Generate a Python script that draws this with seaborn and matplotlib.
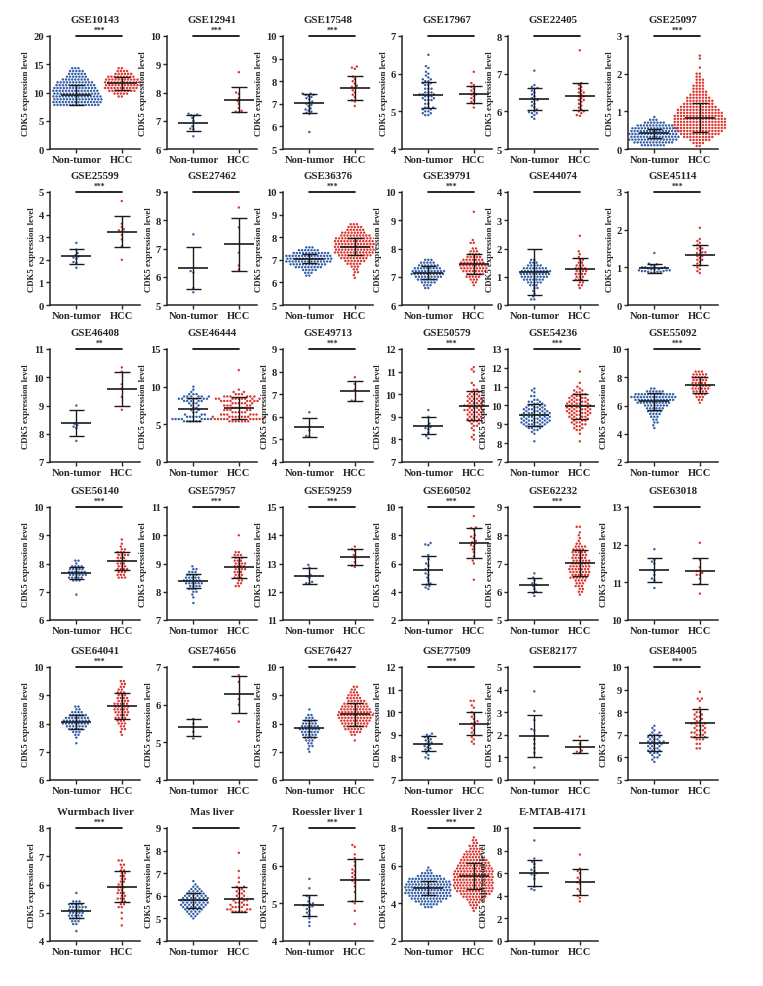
import warnings
import numpy as np
import pandas as pd
import seaborn as sns
import matplotlib.pyplot as plt

warnings.filterwarnings('ignore')

# group values: a plain number is one sample,
# (value, n) means n samples sitting on that level
GSE10143_NT = [(7.8, 15), (8.3, 16), (8.8, 16), (9.3, 16), (9.8, 15), (10.3, 15), (10.8, 14),
               (11.3, 13), (11.8, 12), (12.3, 9), (12.8, 7), (13.3, 6), (13.8, 5), (14.3, 3)]
GSE10143_HCC = [(9.3, 2), (9.8, 5), (10.3, 9), (10.8, 11), (11.3, 12), (11.8, 12), (12.3, 11),
                (12.8, 9), (13.3, 6), (13.8, 4), (14.3, 2)]
GSE12941_NT = [7.25, 7.22, 7.2, 7.18, 7.1, 7.0, 6.8, 6.72, 6.7, 6.45]
GSE12941_HCC = [8.72, 8.0, 7.95, 7.8, 7.7, 7.6, 7.45, 7.35, 7.32, 7.3]
GSE17548_NT = [7.45, 7.45, 7.4, 7.4, 7.35, 7.3, 7.25, 7.2, 7.1, 7.05, 7.0, 6.95, 6.9, 6.8,
               6.75, 6.7, 6.65, 6.6, 6.55, 5.75]
GSE17548_HCC = [8.65, 8.6, 8.55, 8.2, 8.1, 8.0, 7.9, 7.8, 7.75, 7.7, 7.6, 7.5, 7.4, 7.3,
                7.15, 7.1, 6.9]
GSE17967_NT = [6.5, 6.2, 6.15, 6.05, 6.0, 5.95, 5.9, (5.85, 2), (5.8, 2), (5.75, 2), (5.7, 2),
               (5.6, 3), (5.5, 3), (5.45, 3), (5.4, 3), (5.35, 2), (5.3, 3), (5.2, 2), (5.1, 3),
               (5.05, 2), (5.0, 2), (4.95, 2), (4.9, 2)]
GSE17967_HCC = [6.05, 5.75, 5.7, 5.65, 5.6, 5.55, 5.5, 5.45, 5.45, 5.4, 5.35, 5.3, 5.25, 5.2, 5.1]
GSE22405_NT = [7.08, 6.7, 6.65, 6.62, 6.6, 6.55, 6.5, 6.45, 6.4, 6.35, 6.3, 6.3, 6.25, 6.2,
               6.15, 6.1, 6.05, 6.0, 5.98, 5.95, 5.9, 5.85, 5.8, 5.95]
GSE22405_HCC = [7.62, 6.75, 6.7, 6.65, 6.6, 6.55, 6.5, 6.45, 6.4, 6.4, 6.35, 6.3, 6.25, 6.2,
                6.15, 6.1, 6.05, 6.0, 5.95, 5.9, 5.88, 6.0, 6.3, 6.5]
GSE25097_NT = [(0.1, 8), (0.175, 13), (0.25, 16), (0.325, 16), (0.4, 16), (0.475, 16),
               (0.55, 15), (0.625, 12), (0.7, 7), (0.775, 3), (0.85, 1)]
GSE25097_HCC = [(0.08, 2), (0.16, 4), (0.24, 7), (0.32, 10), (0.4, 13), (0.48, 15), (0.56, 17),
                (0.64, 17), (0.72, 17), (0.8, 17), (0.88, 16), (0.96, 15), (1.04, 14),
                (1.12, 12), (1.2, 10), (1.28, 9), (1.36, 8), (1.44, 6), (1.52, 5), (1.6, 4),
                (1.68, 4), (1.76, 3), (1.84, 3), (1.92, 2), (2.0, 2), 2.16, 2.4, 2.48]

GSE25599_NT = [2.75, 2.45, 2.3, 2.2, 2.15, 2.1, 2.05, 1.9, 1.85, 1.65]
GSE25599_HCC = [4.6, 3.6, 3.45, 3.35, 3.3, 3.25, 3.1, 2.9, 2.6, 2.0]
GSE27462_NT = [7.5, 6.2, 6.15, 5.6, 5.45]
GSE27462_HCC = [8.45, 7.75, 6.85, 6.4, 6.25]
GSE36376_NT = [(6.3, 2), (6.425, 3), (6.55, 5), (6.675, 9), (6.8, 12), (6.925, 15), (7.05, 15),
               (7.175, 15), (7.3, 12), (7.425, 7), (7.55, 3)]
GSE36376_HCC = [6.2, 6.325, (6.45, 2), (6.575, 2), (6.7, 3), (6.825, 5), (6.95, 7), (7.075, 9),
                (7.2, 11), (7.325, 13), (7.45, 13), (7.575, 13), (7.7, 13), (7.825, 13),
                (7.95, 12), (8.075, 10), (8.2, 8), (8.325, 6), (8.45, 5), (8.575, 3)]
GSE39791_NT = [(6.6, 2), (6.7, 3), (6.8, 5), (6.9, 7), (7.0, 9), (7.1, 11), (7.2, 11), (7.3, 9),
               (7.4, 7), (7.5, 5), (7.6, 3)]
GSE39791_HCC = [(6.7, 1), (6.8, 2), (6.9, 3), (7.0, 5), (7.1, 6), (7.2, 8), (7.3, 9), (7.4, 9),
                (7.5, 8), (7.6, 7), (7.7, 5), (7.8, 4), (7.9, 3), (8.0, 2), (8.2, 2), (8.3, 1), 9.3]
GSE44074_NT = [(0.2, 2), 0.3, 0.4, 0.5, (0.6, 2), (0.7, 3), (0.8, 5), (0.9, 7), (1.0, 9),
               (1.1, 10), (1.2, 10), (1.3, 8), (1.4, 5), (1.5, 3), (1.6, 2)]
GSE44074_HCC = [0.6, (0.7, 2), (0.8, 2), (0.9, 3), (1.0, 3), (1.1, 4), (1.2, 4), (1.3, 4),
                (1.4, 3), (1.5, 2), (1.6, 2), 1.7, 1.8, 1.9, 2.45]
GSE45114_NT = [1.38, 1.1, 1.08, 1.05, 1.03, (1.0, 3), 0.98, 0.97, (0.95, 3), (0.92, 3),
               (0.9, 3), (0.88, 3), (0.86, 2)]
GSE45114_HCC = [2.05, 1.75, 1.7, 1.65, 1.6, 1.55, 1.5, 1.45, 1.4, 1.38, 1.35, 1.3, 1.3, 1.25,
                1.2, 1.15, 1.1, 1.05, 1.0, 0.95, 0.9, 0.85, 1.2, 1.4, 1.5]

GSE46408_NT = [9.0, 8.35, 8.3, 8.25, 8.2, 7.75]
GSE46408_HCC = [10.35, 10.2, 9.75, 9.6, 9.3, 8.85]
GSE46444_NT = [(5.4, 6), (5.7, 8), (6.0, 5), (6.3, 3), (6.6, 2), (6.9, 2), (7.2, 2), (7.5, 2),
               (7.8, 3), (8.1, 5), (8.4, 7), (8.7, 6), (9.0, 3), 9.3, 9.6, 10.0]
GSE46444_HCC = [(5.4, 7), (5.7, 10), (6.0, 9), (6.3, 6), (6.6, 5), (6.9, 5), (7.2, 5), (7.5, 5),
                (7.8, 6), (8.1, 8), (8.4, 9), (8.7, 6), (9.0, 3), (9.3, 2), 9.6, 12.2]
GSE49713_NT = [6.2, 5.55, 5.4, 5.15, 5.12]
GSE49713_HCC = [7.75, 7.45, 7.2, 6.72, 6.7]
GSE50579_NT = [9.3, 9.0, 8.7, 8.6, 8.55, 8.5, 8.45, 8.3, 8.15, 8.05]
GSE50579_HCC = [8.0, 8.1, 8.2, 8.4, 8.5, (8.6, 2), (8.7, 2), (8.8, 3), (8.9, 3), (9.0, 4),
                (9.1, 4), (9.2, 4), (9.3, 5), (9.4, 4), (9.5, 5), (9.6, 4), (9.7, 4), (9.8, 4),
                (9.9, 3), (10.0, 3), (10.1, 2), (10.2, 2), 10.4, 10.5, 11.0, 11.1, 11.2]
GSE54236_NT = [8.1, 8.5, 8.6, (8.7, 2), (8.8, 3), (8.9, 4), (9.0, 5), (9.1, 6), (9.2, 6),
               (9.3, 6), (9.4, 6), (9.5, 6), (9.6, 6), (9.7, 5), (9.8, 5), (9.9, 4), (10.0, 4),
               (10.1, 3), (10.2, 3), (10.3, 2), (10.5, 2), 10.7, 10.8, 10.9]
GSE54236_HCC = [8.1, 8.5, (8.7, 2), (8.8, 2), (8.9, 2), (9.0, 3), (9.1, 3), (9.2, 3), (9.3, 4),
                (9.4, 4), (9.5, 4), (9.6, 5), (9.7, 5), (9.8, 5), (9.9, 5), (10.0, 5), (10.1, 5),
                (10.2, 4), (10.3, 4), (10.4, 4), (10.5, 3), (10.6, 3), (10.7, 2), (10.8, 2),
                10.9, 11.0, 11.2, 11.8]
GSE55092_NT = [4.4, 4.6, (4.8, 2), (5.0, 2), (5.2, 3), (5.4, 4), (5.6, 5), (5.8, 6), (6.0, 8),
               (6.2, 11), (6.4, 13), (6.6, 15), (6.8, 13), (7.0, 6), (7.2, 2)]
GSE55092_HCC = [6.2, (6.4, 2), (6.6, 3), (6.8, 4), (7.0, 5), (7.2, 6), (7.4, 6), (7.6, 5),
                (7.8, 5), (8.0, 5), (8.2, 5), (8.4, 3)]

GSE56140_NT = [6.9, (7.4, 3), (7.5, 5), (7.6, 6), (7.7, 6), (7.8, 5), (7.9, 4), 8.0, (8.1, 2)]
GSE56140_HCC = [(7.5, 3), (7.6, 3), (7.7, 3), (7.8, 4), (7.9, 3), (8.0, 3), (8.1, 3), (8.2, 3),
                (8.3, 4), (8.4, 3), (8.5, 2), 8.6, 8.7, 8.85]
GSE57957_NT = [8.9, (8.8, 2), (8.7, 3), (8.6, 4), (8.5, 5), (8.4, 6), (8.3, 6), (8.2, 4),
               (8.1, 3), (8.0, 2), 7.9, 7.8, 7.6]
GSE57957_HCC = [10.0, (9.4, 2), (9.3, 3), (9.2, 3), (9.1, 3), (9.0, 4), (8.9, 4), (8.8, 4),
                (8.7, 3), (8.6, 3), (8.5, 3), (8.4, 2), (8.3, 2), (8.2, 2)]
GSE59259_NT = [12.95, 12.85, 12.6, 12.55, 12.5, 12.35, 12.3, 12.3]
GSE59259_HCC = [13.6, 13.5, 13.45, 13.3, 13.2, 13.05, 12.92, 12.88]
GSE60502_NT = [7.45, 7.35, 7.3, 6.6, 6.3, 6.0, 5.85, 5.6, 5.5, 5.3, 5.2, 5.0, 4.8, 4.6, 4.5,
               4.3, 4.2, 4.4]
GSE60502_HCC = [9.35, 8.55, 8.5, 8.4, 8.0, 7.8, 7.6, 7.5, 7.4, 7.3, 7.2, 7.0, 6.8, 6.5, 6.2,
                6.0, 4.85, 7.9]
GSE62232_NT = [6.65, 6.5, 6.4, 6.3, 6.25, 6.2, 6.1, 6.0, 5.95, 5.85]
GSE62232_HCC = [5.9, (6.0, 2), (6.1, 2), (6.2, 3), (6.3, 3), (6.4, 4), (6.5, 6), (6.6, 6),
                (6.7, 7), (6.8, 7), (6.9, 7), (7.0, 6), (7.1, 6), (7.2, 5), (7.3, 5), (7.4, 5),
                (7.5, 4), (7.6, 4), (7.7, 2), 7.8, 7.9, 8.0, 8.1, (8.3, 2)]
GSE63018_NT = [11.88, 11.6, 11.55, 11.5, 11.3, 11.2, 11.1, 11.05, 10.85]
GSE63018_HCC = [12.05, 11.6, 11.4, 11.3, 11.3, 11.25, 11.2, 11.2, 11.1, 10.95, 10.7]

GSE64041_NT = [7.3, 7.5, (7.6, 2), (7.7, 3), (7.8, 5), (7.9, 7), (8.0, 9), (8.1, 9), (8.2, 8),
               (8.3, 6), (8.4, 4), (8.5, 2), (8.6, 2)]
GSE64041_HCC = [7.6, 7.7, (7.8, 2), (7.9, 2), (8.0, 3), (8.1, 3), (8.2, 4), (8.3, 4), (8.4, 5),
                (8.5, 5), (8.6, 5), (8.7, 5), (8.8, 4), (8.9, 4), (9.0, 3), (9.1, 3), (9.2, 2),
                (9.3, 2), (9.4, 2), (9.5, 2)]
GSE74656_NT = [5.62, 5.5, 5.4, 5.28, 5.1]
GSE74656_HCC = [6.78, 6.6, 6.15, 6.0, 5.55]
GSE76427_NT = [7.0, 7.1, (7.2, 2), (7.3, 2), (7.4, 3), (7.5, 4), (7.6, 5), (7.7, 6), (7.8, 7),
               (7.9, 6), (8.0, 5), (8.1, 4), (8.2, 3), (8.3, 2), 8.5]
GSE76427_HCC = [7.4, (7.6, 2), (7.7, 4), (7.8, 6), (7.9, 8), (8.0, 9), (8.1, 10), (8.2, 11),
                (8.3, 12), (8.4, 11), (8.5, 10), (8.6, 9), (8.7, 8), (8.8, 6), (8.9, 5),
                (9.0, 4), (9.1, 3), (9.2, 2), (9.3, 2)]
GSE77509_NT = [9.05, 9.0, 8.95, 8.9, 8.85, 8.8, 8.75, 8.7, 8.65, 8.6, 8.55, 8.5, 8.45, 8.4,
               8.35, 8.3, 8.2, 8.1, 8.0, 7.95]
GSE77509_HCC = [10.5, 10.5, 10.3, 10.2, 10.0, 9.9, 9.8, 9.7, 9.6, 9.5, 9.4, 9.3, 9.2, 9.1,
                9.0, 8.9, 8.8, 8.7, 8.6, 9.55]
GSE82177_NT = [3.92, 3.05, 2.65, 2.25, 2.2, 1.8, 1.6, 1.4, 1.2, 0.55]
GSE82177_HCC = [1.92, 1.6, 1.45, 1.3, 1.25, 1.2]
GSE84005_NT = [5.8, 5.9, (6.0, 2), (6.1, 2), (6.2, 3), (6.3, 3), (6.4, 3), (6.5, 3), (6.6, 4),
               (6.7, 4), (6.8, 3), (6.9, 3), (7.0, 3), (7.1, 2), 7.2, 7.3, 7.4]
GSE84005_HCC = [(6.4, 2), (6.6, 2), (6.8, 3), (6.9, 3), (7.0, 3), (7.1, 3), (7.2, 3), (7.3, 2),
                (7.4, 3), (7.5, 3), (7.6, 2), (7.7, 2), (7.8, 2), (7.9, 2), (8.0, 2), 8.2, 8.5,
                (8.6, 2), 8.9]

WURMBACH_NT = [4.35, (4.6, 2), (4.7, 3), (4.8, 4), (4.9, 5), (5.0, 5), (5.1, 5), (5.2, 6),
               (5.3, 5), (5.4, 3), 5.7]
WURMBACH_HCC = [4.55, 4.8, 5.0, (5.2, 2), (5.3, 2), (5.4, 2), (5.5, 3), (5.6, 2), (5.7, 3),
                (5.8, 2), (5.9, 3), (6.0, 2), (6.1, 2), (6.2, 2), (6.3, 2), (6.4, 2), (6.5, 2),
                6.6, (6.7, 2), (6.85, 2)]
MAS_NT = [5.0, (5.1, 2), (5.2, 3), (5.3, 4), (5.4, 5), (5.5, 6), (5.6, 7), (5.7, 7), (5.8, 7),
          (5.9, 7), (6.0, 6), (6.1, 5), (6.2, 4), (6.3, 3), (6.4, 2), 6.5, 6.65]
MAS_HCC = [(5.3, 5), (5.4, 4), (5.5, 4), (5.6, 3), (5.7, 3), (5.8, 3), (5.9, 2), (6.0, 2),
           (6.1, 2), (6.2, 2), (6.3, 2), (6.4, 2), 6.6, 6.8, 7.1, 7.9]
ROESSLER1_NT = [5.65, 5.4, 5.2, 5.15, 5.05, 5.0, 4.98, 4.95, 4.92, 4.9, 4.85, 4.8, 4.75, 4.7,
                4.6, 4.5, 4.4, 4.95]
ROESSLER1_HCC = [6.55, 6.5, 6.2, 6.1, 6.0, 5.9, 5.85, 5.8, 5.7, 5.6, 5.55, 5.45, 5.3, 5.05,
                 5.0, 4.8, 4.45, 5.65, 5.75, 6.3]
ROESSLER2_NT = [(3.8, 3), (3.95, 6), (4.1, 9), (4.25, 12), (4.4, 14), (4.55, 15), (4.7, 15),
                (4.85, 15), (5.0, 15), (5.15, 14), (5.3, 12), (5.45, 8), (5.6, 4), (5.75, 2), 5.9]
ROESSLER2_HCC = [3.6, (3.75, 2), (3.9, 3), (4.05, 4), (4.2, 6), (4.35, 8), (4.5, 10), (4.65, 12),
                 (4.8, 13), (4.95, 13), (5.1, 13), (5.25, 13), (5.4, 13), (5.55, 13), (5.7, 13),
                 (5.85, 12), (6.0, 11), (6.15, 10), (6.3, 9), (6.45, 7), (6.6, 6), (6.75, 5),
                 (6.9, 4), (7.05, 3), (7.2, 2), (7.35, 2), 7.5]
EMTAB_NT = [8.9, 7.3, 7.0, 6.8, 6.5, 6.3, 6.2, 6.0, 5.9, 5.8, 5.5, 4.8, 4.6, 4.5]
EMTAB_HCC = [7.65, 6.4, 6.2, 6.0, 5.6, 5.4, 5.2, 5.1, 4.6, 4.4, 4.0, 3.8, 3.5]

TITLES = ['GSE10143', 'GSE12941', 'GSE17548', 'GSE17967', 'GSE22405', 'GSE25097',
          'GSE25599', 'GSE27462', 'GSE36376', 'GSE39791', 'GSE44074', 'GSE45114',
          'GSE46408', 'GSE46444', 'GSE49713', 'GSE50579', 'GSE54236', 'GSE55092',
          'GSE56140', 'GSE57957', 'GSE59259', 'GSE60502', 'GSE62232', 'GSE63018',
          'GSE64041', 'GSE74656', 'GSE76427', 'GSE77509', 'GSE82177', 'GSE84005',
          'Wurmbach liver', 'Mas liver', 'Roessler liver 1', 'Roessler liver 2', 'E-MTAB-4171']
NT_DATA = [GSE10143_NT, GSE12941_NT, GSE17548_NT, GSE17967_NT, GSE22405_NT, GSE25097_NT,
           GSE25599_NT, GSE27462_NT, GSE36376_NT, GSE39791_NT, GSE44074_NT, GSE45114_NT,
           GSE46408_NT, GSE46444_NT, GSE49713_NT, GSE50579_NT, GSE54236_NT, GSE55092_NT,
           GSE56140_NT, GSE57957_NT, GSE59259_NT, GSE60502_NT, GSE62232_NT, GSE63018_NT,
           GSE64041_NT, GSE74656_NT, GSE76427_NT, GSE77509_NT, GSE82177_NT, GSE84005_NT,
           WURMBACH_NT, MAS_NT, ROESSLER1_NT, ROESSLER2_NT, EMTAB_NT]
HCC_DATA = [GSE10143_HCC, GSE12941_HCC, GSE17548_HCC, GSE17967_HCC, GSE22405_HCC, GSE25097_HCC,
            GSE25599_HCC, GSE27462_HCC, GSE36376_HCC, GSE39791_HCC, GSE44074_HCC, GSE45114_HCC,
            GSE46408_HCC, GSE46444_HCC, GSE49713_HCC, GSE50579_HCC, GSE54236_HCC, GSE55092_HCC,
            GSE56140_HCC, GSE57957_HCC, GSE59259_HCC, GSE60502_HCC, GSE62232_HCC, GSE63018_HCC,
            GSE64041_HCC, GSE74656_HCC, GSE76427_HCC, GSE77509_HCC, GSE82177_HCC, GSE84005_HCC,
            WURMBACH_HCC, MAS_HCC, ROESSLER1_HCC, ROESSLER2_HCC, EMTAB_HCC]
# mean and SD bars as drawn in the figure: (mean, sd)
NT_STATS = [(9.6, 1.8), (6.92, 0.29), (7.03, 0.42), (5.43, 0.34), (6.32, 0.29), (0.42, 0.12),
            (2.15, 0.32), (6.3, 0.75), (7.05, 0.2), (7.15, 0.22), (1.17, 0.81), (0.97, 0.11),
            (8.38, 0.45), (7.0, 1.5), (5.53, 0.41), (8.6, 0.38), (9.5, 0.57), (6.3, 0.6),
            (7.67, 0.22), (8.37, 0.25), (12.56, 0.28), (5.55, 0.98), (6.23, 0.25), (11.33, 0.31),
            (8.05, 0.25), (5.4, 0.22), (7.83, 0.31), (8.6, 0.33), (1.95, 0.93), (6.65, 0.35),
            (5.07, 0.27), (5.8, 0.33), (4.95, 0.28), (4.82, 0.37), (6.05, 1.15)]
HCC_STATS = [(11.6, 1.15), (7.75, 0.45), (7.7, 0.55), (5.45, 0.22), (6.4, 0.36), (0.83, 0.38),
             (3.25, 0.68), (7.15, 0.93), (7.58, 0.37), (7.45, 0.36), (1.28, 0.38), (1.33, 0.27),
             (9.58, 0.59), (7.2, 1.45), (7.13, 0.44), (9.5, 0.63), (9.95, 0.67), (7.45, 0.6),
             (8.1, 0.32), (8.87, 0.37), (13.22, 0.28), (7.43, 1.05), (7.02, 0.47), (11.3, 0.35),
             (8.62, 0.45), (6.27, 0.5), (8.32, 0.4), (9.5, 0.53), (1.48, 0.3), (7.53, 0.62),
             (5.92, 0.55), (5.85, 0.55), (5.62, 0.57), (5.45, 0.7), (5.22, 1.13)]
# y axis (low, high, step)
Y_AXES = [(0, 20, 5), (6, 10, 1), (5, 10, 1), (4, 7, 1), (5, 8, 1), (0, 3, 1),
          (0, 5, 1), (5, 9, 1), (5, 10, 1), (6, 10, 1), (0, 4, 1), (0, 3, 1),
          (7, 11, 1), (0, 15, 5), (4, 9, 1), (7, 12, 1), (7, 13, 1), (2, 10, 2),
          (6, 10, 1), (7, 11, 1), (11, 15, 1), (2, 10, 2), (5, 9, 1), (10, 13, 1),
          (6, 10, 1), (4, 7, 1), (6, 10, 1), (7, 12, 1), (0, 5, 1), (5, 10, 1),
          (4, 8, 1), (4, 9, 1), (4, 7, 1), (2, 8, 2), (0, 10, 2)]
STARS = ['***', '***', '***', '', '', '***',
         '***', '', '***', '***', '', '***',
         '**', '', '***', '***', '***', '***',
         '***', '***', '***', '***', '***', '',
         '***', '**', '***', '***', '', '***',
         '***', '', '***', '***', '']

GROUPS = ['Non-tumor', 'HCC']
COLORS = {'Non-tumor': '#3560a8', 'HCC': '#dc3731'}

# panel placement in pixels
W, H = 763, 987
COL_X = [50, 167, 283, 402, 508, 628]
ROW_Y = [37, 193, 350, 508, 668, 829]
AX_W, AX_H = 90, 113
X_LO, X_HI = -0.58, 1.4
SWARM_PX = 72   # pixels per category unit on the dot layers (swarm room = 0.8 unit)


def expand(spec):
    out = []
    for v in spec:
        if isinstance(v, tuple):
            out += [v[0]] * v[1]
        else:
            out.append(v)
    return out


sns.set_style('ticks')
plt.rcParams['font.family'] = ['Liberation Serif', 'DejaVu Serif']
plt.rcParams['font.weight'] = 'bold'
plt.rcParams['axes.linewidth'] = 1.1

fig = plt.figure(figsize=(W / 100, H / 100), dpi=100)
px_per_unit = AX_W / (X_HI - X_LO)

for i, title in enumerate(TITLES):
    r, c = divmod(i, 6)
    rect = [COL_X[c] / W, 1 - (ROW_Y[r] + AX_H) / H, AX_W / W, AX_H / H]
    lo, hi, step = Y_AXES[i]

    # one dot layer per group so each swarm gets its own room
    for k, (grp, spec) in enumerate(zip(GROUPS, [NT_DATA[i], HCC_DATA[i]])):
        axd = fig.add_axes(rect)
        df = pd.DataFrame({'value': expand(spec)})
        # invisible edge keeps a small gap between neighbouring dots
        sns.swarmplot(data=df, y='value', color=COLORS[grp], size=1.75, linewidth=0.4,
                      edgecolor='none', clip_on=False, ax=axd)
        centre_px = (k - X_LO) * px_per_unit
        left = -centre_px / SWARM_PX
        axd.set_xlim(left, left + AX_W / SWARM_PX)
        axd.set_ylim(lo, hi)
        axd.axis('off')

    ax = fig.add_axes(rect)
    ax.set_facecolor('none')
    ax.set_xlim(X_LO, X_HI)
    ax.set_xticks([0, 1], GROUPS)

    # mean line with SD whiskers
    for k, (m, sd) in enumerate([NT_STATS[i], HCC_STATS[i]]):
        ax.hlines(m, k - 0.33, k + 0.33, color='#1a1a1a', lw=1.2, zorder=4)
        ax.vlines(k, m - sd, m + sd, color='#1a1a1a', lw=1.0, zorder=4)
        ax.hlines([m - sd, m + sd], k - 0.17, k + 0.17, color='#1a1a1a', lw=1.0, zorder=4)

    ax.set_ylim(lo, hi)
    ax.set_yticks(np.arange(lo, hi + step / 2, step))

    # significance bracket
    ax.plot([0, 1], [hi, hi], color='black', lw=1.2, clip_on=False)
    if STARS[i]:
        ax.annotate(STARS[i], xy=(0.5, hi), xytext=(0, 1.5), textcoords='offset points',
                    ha='center', va='bottom', fontsize=5.5, fontweight='bold',
                    annotation_clip=False)

    ax.set_title(title, fontsize=7.8, fontweight='bold', pad=10)
    ax.set_ylabel('CDK5 expression level', fontsize=6.3, fontweight='bold', labelpad=2)
    ax.tick_params(axis='both', labelsize=7.6, length=3, width=1.0, pad=1.5)
    for lab in ax.get_xticklabels() + ax.get_yticklabels():
        lab.set_fontweight('bold')
    sns.despine(ax=ax)

fig.savefig('out.png', dpi=100)
